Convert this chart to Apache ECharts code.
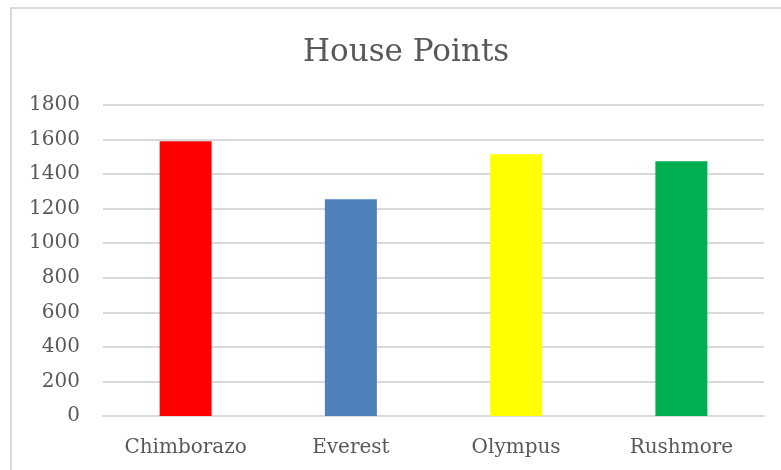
<!DOCTYPE html>
<html>
<head>
<meta charset="utf-8">
<script src="https://cdn.jsdelivr.net/npm/echarts@6/dist/echarts.min.js"></script>
<style>
  html, body { margin: 0; padding: 0; background: #fff; }
  #main { width: 781px; height: 470px; }
</style>
</head>
<body>
<div id="main"></div>
<script>
const houses = ["Chimborazo", "Everest", "Olympus", "Rushmore"];
const points = [1590, 1255, 1515, 1475];
const barColors = ["#FF0000", "#4F81BD", "#FFFF00", "#00B050"];
const yTicks = [0, 200, 400, 600, 800, 1000, 1200, 1400, 1600, 1800];

const chart = echarts.init(document.getElementById("main"));

const option = {
  backgroundColor: "#fff",
  animation: false,
  title: {
    text: "House Points",
    left: 298,
    top: 32,
    textStyle: {
      fontFamily: "DejaVu Serif",
      fontWeight: "normal",
      fontSize: 31,
      color: "#595959",
    },
  },
  // chart frame, cut off on the right and bottom
  graphic: [
    {
      type: "polyline",
      shape: { points: [[11, 480], [11, 8], [790, 8]] },
      style: { stroke: "#d9d9d9", lineWidth: 2, fill: null },
    },
  ],
  grid: {
    left: 103,
    right: 17,
    top: 105,
    bottom: 54,
  },
  xAxis: {
    type: "category",
    data: houses,
    axisTick: { show: false },
    axisLine: { lineStyle: { color: "#d9d9d9", width: 2 } },
    axisLabel: {
      color: "#595959",
      fontFamily: "DejaVu Serif",
      fontSize: 20,
      margin: 22,
    },
  },
  yAxis: {
    type: "value",
    min: yTicks[0],
    max: yTicks[yTicks.length - 1],
    interval: 200,
    axisLine: { show: false },
    axisTick: { show: false },
    splitLine: { lineStyle: { color: "#d9d9d9", width: 2 } },
    axisLabel: {
      color: "#595959",
      fontFamily: "DejaVu Serif",
      fontSize: 20,
      margin: 23,
      formatter: (v) => String(v),
    },
  },
  series: [
    {
      type: "bar",
      barWidth: 52,
      data: points.map((v, i) => ({ value: v, itemStyle: { color: barColors[i] } })),
    },
  ],
};

chart.setOption(option);
</script>
</body>
</html>
